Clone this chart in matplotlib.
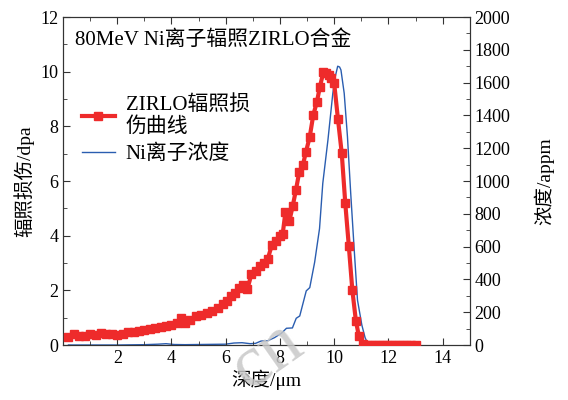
import numpy as np
import matplotlib
matplotlib.use('Agg')
import matplotlib.pyplot as plt
from matplotlib.ticker import MultipleLocator

plt.rcParams['font.family'] = ['Liberation Serif', 'Noto Sans CJK SC']
plt.rcParams['axes.unicode_minus'] = False

# damage curve (dpa)
depth_dpa = [0.2, 0.4, 0.6, 0.8, 1.0, 1.2, 1.4, 1.6, 1.8, 2.0, 2.2, 2.4, 2.6, 2.8,
             3.0, 3.2, 3.4, 3.6, 3.8, 4.0, 4.2, 4.35, 4.5, 4.7, 4.9, 5.1, 5.3, 5.5,
             5.7, 5.9, 6.05, 6.2, 6.35, 6.5, 6.65, 6.8, 6.95, 7.1, 7.25, 7.4, 7.55,
             7.7, 7.85, 8.0, 8.1, 8.2, 8.35, 8.47, 8.59, 8.71, 8.85, 8.96, 9.1, 9.23,
             9.36, 9.47, 9.6, 9.7, 9.8, 9.9, 10.0, 10.14, 10.28, 10.41, 10.54, 10.67,
             10.8, 10.91, 11.05, 11.2, 11.35, 11.5, 11.65, 11.8, 11.95, 12.1, 12.25,
             12.4, 12.55, 12.7, 12.85, 13.0]
dpa = [0.28, 0.42, 0.32, 0.33, 0.42, 0.38, 0.45, 0.42, 0.40, 0.36, 0.42, 0.46, 0.48, 0.50,
       0.55, 0.57, 0.62, 0.65, 0.70, 0.74, 0.80, 0.98, 0.82, 0.90, 1.05, 1.10, 1.16, 1.25,
       1.35, 1.50, 1.62, 1.80, 1.92, 2.10, 2.20, 2.05, 2.60, 2.72, 2.88, 3.00, 3.15,
       3.65, 3.80, 3.98, 4.05, 4.85, 4.55, 5.08, 5.67, 6.32, 6.60, 7.07, 7.62, 8.42,
       8.88, 9.43, 9.98, 9.95, 9.88, 9.76, 9.58, 8.26, 7.01, 5.18, 3.62, 2.01,
       0.89, 0.33, 0.05, 0.0, 0.0, 0.0, 0.0, 0.0, 0.0, 0.0, 0.0,
       0.0, 0.0, 0.0, 0.0, 0.0]

# Ni ion concentration (appm)
depth_ni = [0.2, 1.0, 2.0, 3.0, 3.5, 3.8, 4.1, 4.5, 5.0, 5.5, 6.0, 6.3, 6.6, 6.9, 7.1,
            7.3, 7.55, 7.8, 8.05, 8.24, 8.46, 8.6, 8.73, 8.97, 9.1, 9.28, 9.46, 9.58,
            9.77, 9.95, 10.04, 10.13, 10.2, 10.25, 10.37, 10.49, 10.61, 10.74, 10.86,
            11.02, 11.14, 11.25, 11.5, 12.0, 13.0]
ni_conc = [0, 0, 0, 2, 5, 8, 3, 2, 3, 4, 5, 12, 14, 8, 10,
           24, 26, 45, 71, 102, 104, 163, 177, 330, 350, 505, 710, 986,
           1250, 1535, 1636, 1700, 1695, 1677, 1535, 1270, 925, 579, 274,
           122, 45, 5, 0, 0, 0]

fig = plt.figure(figsize=(5.68, 4.0), dpi=100)
ax = fig.add_axes([0.111, 0.1375, 0.716, 0.82])
ax2 = ax.twinx()

l1, = ax.plot(depth_dpa, dpa, color='#ee2b2b', lw=3, marker='s', ms=5.5,
              label='ZIRLO辐照损\n伤曲线', zorder=3)
l2, = ax2.plot(depth_ni, ni_conc, color='#2a5db0', lw=1.0, label='Ni离子浓度')
ax.set_zorder(ax2.get_zorder() + 1)
ax.patch.set_visible(False)

ax.set_xlim(0, 15)
ax.set_ylim(0, 12)
ax2.set_ylim(0, 2000)
ax.xaxis.set_major_locator(MultipleLocator(2))
ax.xaxis.set_minor_locator(MultipleLocator(1))
ax.yaxis.set_major_locator(MultipleLocator(2))
ax.yaxis.set_minor_locator(MultipleLocator(1))
ax2.yaxis.set_major_locator(MultipleLocator(200))
ax2.yaxis.set_minor_locator(MultipleLocator(100))
ax.set_xticks([2, 4, 6, 8, 10, 12, 14])

ax.tick_params(which='both', direction='in', top=True, labelsize=13, colors='#333333',
               labelcolor='black')
ax.tick_params(which='major', length=5)
ax.tick_params(which='minor', length=3)
ax2.tick_params(which='both', direction='in', labelsize=13, colors='#333333',
                labelcolor='black')
ax2.tick_params(which='major', length=5)
ax2.tick_params(which='minor', length=3)
for a in (ax, ax2):
    for s in a.spines.values():
        s.set_color('#333333')

ax.set_xlabel('深度/μm', fontsize=14, labelpad=2)
ax.set_ylabel('辐照损伤/dpa', fontsize=14, labelpad=4)
ax2.set_ylabel('浓度/appm', fontsize=14, labelpad=17)

ax.text(0.03, 0.93, '80MeV Ni离子辐照ZIRLO合金', transform=ax.transAxes,
        fontsize=15, va='center', ha='left')

ax.legend(handles=[l1, l2], loc='upper left', bbox_to_anchor=(0.0, 0.82),
          frameon=False, fontsize=15, handlelength=1.6, handletextpad=0.5,
          labelspacing=0.35)

# faint watermark drawn over the axes
fig.text(0.47, 0.11, 'cn', fontsize=54, color='#c8c8c8', rotation=35,
         ha='center', va='center', alpha=0.85, zorder=10)

fig.savefig('out.png', dpi=100)
